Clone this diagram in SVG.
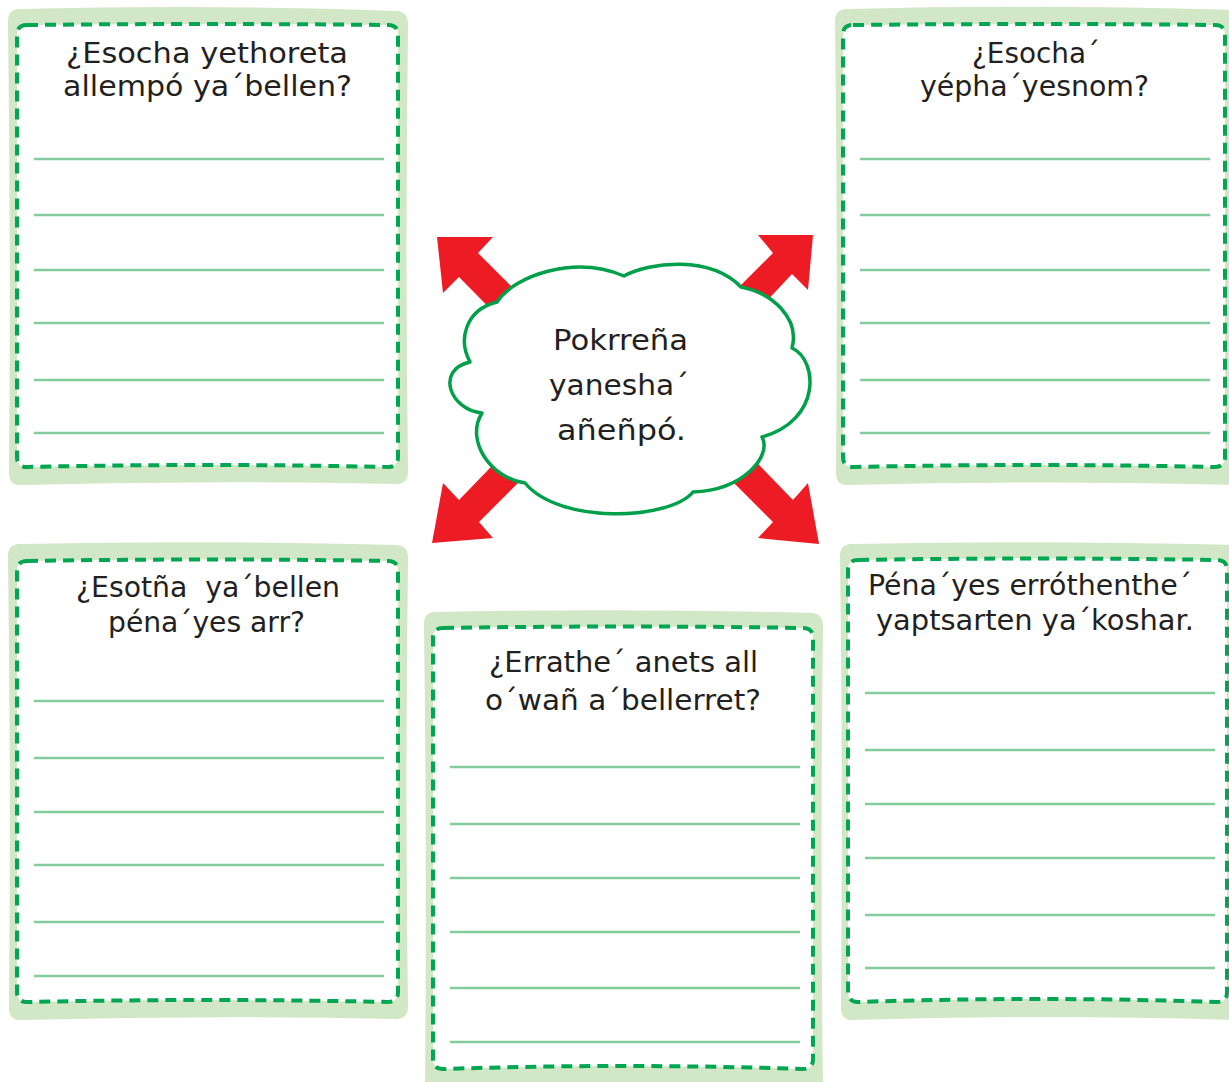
<svg xmlns="http://www.w3.org/2000/svg" width="1229" height="1082" viewBox="0 0 1229 1082">
<style>
.outer{fill:#d2e7c5;stroke:none}
.dash{fill:#ffffff;stroke:#00a651;stroke-width:4;stroke-dasharray:11 7;stroke-linejoin:round}
.rule{stroke:#86cb9d;stroke-width:2.5;fill:none}
.t{font-family:"DejaVu Sans","Liberation Sans",sans-serif;font-size:28px;fill:#231f20;white-space:pre}
.arrow{fill:#ed1c24;stroke:none}
.cloud{fill:#ffffff;stroke:#00a04a;stroke-width:3.5;stroke-linejoin:round}
</style>
<rect width="1229" height="1082" fill="#ffffff"/>

<g id="box-top-left">
<path class="outer" d="M20,9 Q208,4 397,11 Q408,12 408,24 Q405,250 408,472 Q408,484 396,484 Q208,480 20,485 Q9,485 9,473 Q11,250 8,21 Q8,9 20,9 Z"/>
<path class="dash" d="M27,25 Q208,23 388,25 Q398,25 398,35 L398,457 Q398,467 388,467 Q208,463 27,467 Q17,467 17,457 L17,35 Q17,25 27,25 Z"/>
<line class="rule" x1="34" y1="159" x2="384" y2="159"/>
<line class="rule" x1="34" y1="215" x2="384" y2="215"/>
<line class="rule" x1="34" y1="270" x2="384" y2="270"/>
<line class="rule" x1="34" y1="323" x2="384" y2="323"/>
<line class="rule" x1="34" y1="380" x2="384" y2="380"/>
<line class="rule" x1="34" y1="433" x2="384" y2="433"/>
<text class="t" x="66" y="63" textLength="282" lengthAdjust="spacingAndGlyphs">¿Esocha yethoreta</text>
<text class="t" x="63" y="96" textLength="289" lengthAdjust="spacingAndGlyphs">allempó ya´bellen?</text>
</g>

<g id="box-top-right">
<path class="outer" d="M847,9 Q1040,4 1240,10 L1240,485 Q1040,480 847,485 Q836,485 836,473 Q838,250 835,21 Q835,9 847,9 Z"/>
<path class="dash" d="M853,25 Q1040,23 1215,25 Q1225,25 1225,35 L1225,457 Q1225,467 1215,467 Q1040,463 853,467 Q843,467 843,457 L843,35 Q843,25 853,25 Z"/>
<line class="rule" x1="860" y1="159" x2="1210" y2="159"/>
<line class="rule" x1="860" y1="215" x2="1210" y2="215"/>
<line class="rule" x1="860" y1="270" x2="1210" y2="270"/>
<line class="rule" x1="860" y1="323" x2="1210" y2="323"/>
<line class="rule" x1="860" y1="380" x2="1210" y2="380"/>
<line class="rule" x1="860" y1="433" x2="1210" y2="433"/>
<text class="t" x="972" y="63" textLength="128" lengthAdjust="spacingAndGlyphs">¿Esocha´</text>
<text class="t" x="920" y="96" textLength="229" lengthAdjust="spacingAndGlyphs">yépha´yesnom?</text>
</g>

<g id="box-bottom-left">
<path class="outer" d="M20,544 Q208,540 397,545 Q408,546 408,558 Q405,790 408,1007 Q408,1019 396,1019 Q208,1015 20,1020 Q9,1020 9,1008 Q11,790 8,556 Q8,544 20,544 Z"/>
<path class="dash" d="M27,561 Q208,558 388,561 Q398,561 398,571 L398,992 Q398,1002 388,1002 Q208,998 27,1002 Q17,1002 17,992 L17,571 Q17,561 27,561 Z"/>
<line class="rule" x1="34" y1="701" x2="384" y2="701"/>
<line class="rule" x1="34" y1="758" x2="384" y2="758"/>
<line class="rule" x1="34" y1="812" x2="384" y2="812"/>
<line class="rule" x1="34" y1="865" x2="384" y2="865"/>
<line class="rule" x1="34" y1="922" x2="384" y2="922"/>
<line class="rule" x1="34" y1="976" x2="384" y2="976"/>
<text class="t" x="76" y="597" textLength="264" lengthAdjust="spacingAndGlyphs">¿Esotña  ya´bellen</text>
<text class="t" x="108" y="632" textLength="197" lengthAdjust="spacingAndGlyphs">péna´yes arr?</text>
</g>

<g id="box-bottom-middle">
<path class="outer" d="M436,612 Q624,608 812,613 Q823,614 823,626 Q820,850 823,1090 L425,1090 Q427,850 424,624 Q424,612 436,612 Z"/>
<path class="dash" d="M443,628 Q624,625 803,628 Q813,628 813,638 L813,1059 Q813,1069 803,1069 Q624,1063 443,1069 Q433,1069 433,1059 L433,638 Q433,628 443,628 Z"/>
<line class="rule" x1="450" y1="767" x2="800" y2="767"/>
<line class="rule" x1="450" y1="824" x2="800" y2="824"/>
<line class="rule" x1="450" y1="878" x2="800" y2="878"/>
<line class="rule" x1="450" y1="932" x2="800" y2="932"/>
<line class="rule" x1="450" y1="988" x2="800" y2="988"/>
<line class="rule" x1="450" y1="1042" x2="800" y2="1042"/>
<text class="t" x="489" y="672" textLength="269" lengthAdjust="spacingAndGlyphs">¿Errathe´ anets all</text>
<text class="t" x="485" y="710" textLength="276" lengthAdjust="spacingAndGlyphs">o´wañ a´bellerret?</text>
</g>

<g id="box-bottom-right">
<path class="outer" d="M852,544 Q1040,540 1240,545 L1240,1020 Q1040,1014 852,1020 Q841,1020 841,1008 Q843,790 840,556 Q840,544 852,544 Z"/>
<path class="dash" d="M858,560 Q1040,557 1217,560 Q1227,560 1227,570 L1227,992 Q1227,1002 1217,1002 Q1040,996 858,1002 Q848,1002 848,992 L848,570 Q848,560 858,560 Z"/>
<line class="rule" x1="865" y1="693" x2="1215" y2="693"/>
<line class="rule" x1="865" y1="750" x2="1215" y2="750"/>
<line class="rule" x1="865" y1="804" x2="1215" y2="804"/>
<line class="rule" x1="865" y1="858" x2="1215" y2="858"/>
<line class="rule" x1="865" y1="915" x2="1215" y2="915"/>
<line class="rule" x1="865" y1="968" x2="1215" y2="968"/>
<text class="t" x="868" y="595" textLength="324" lengthAdjust="spacingAndGlyphs">Péna´yes erróthenthe´</text>
<text class="t" x="876" y="630" textLength="318" lengthAdjust="spacingAndGlyphs">yaptsarten ya´koshar.</text>
</g>

<g id="connectors">
<polygon class="arrow" points="437,237 493,237 478,253 540,315 518,337 459,277 443,293"/>
<polygon class="arrow" points="813,235 758,235 773,253 711,315 733,337 792,274 808,290"/>
<polygon class="arrow" points="432,543 493,538 479,522 541,460 519,438 459,500 443,483"/>
<polygon class="arrow" points="819,544 758,538 773,522 711,460 733,438 793,500 808,483"/>
</g>

<g id="cloud">
<path class="cloud" d="M497,302 C515,275 575,255 624,276 C650,262 710,255 741,287 C772,293 800,318 792,348 C818,360 822,420 762,437 C772,455 745,490 693,492 C670,520 560,525 525,483 C490,478 465,440 482,413 C450,410 435,370 470,362 C458,340 465,310 497,302 Z"/>
<text class="t" x="553" y="350" textLength="135" lengthAdjust="spacingAndGlyphs">Pokrreña</text>
<text class="t" x="549" y="395" textLength="140" lengthAdjust="spacingAndGlyphs">yanesha´</text>
<text class="t" x="557" y="440" textLength="129" lengthAdjust="spacingAndGlyphs">añeñpó.</text>
</g>
</svg>
